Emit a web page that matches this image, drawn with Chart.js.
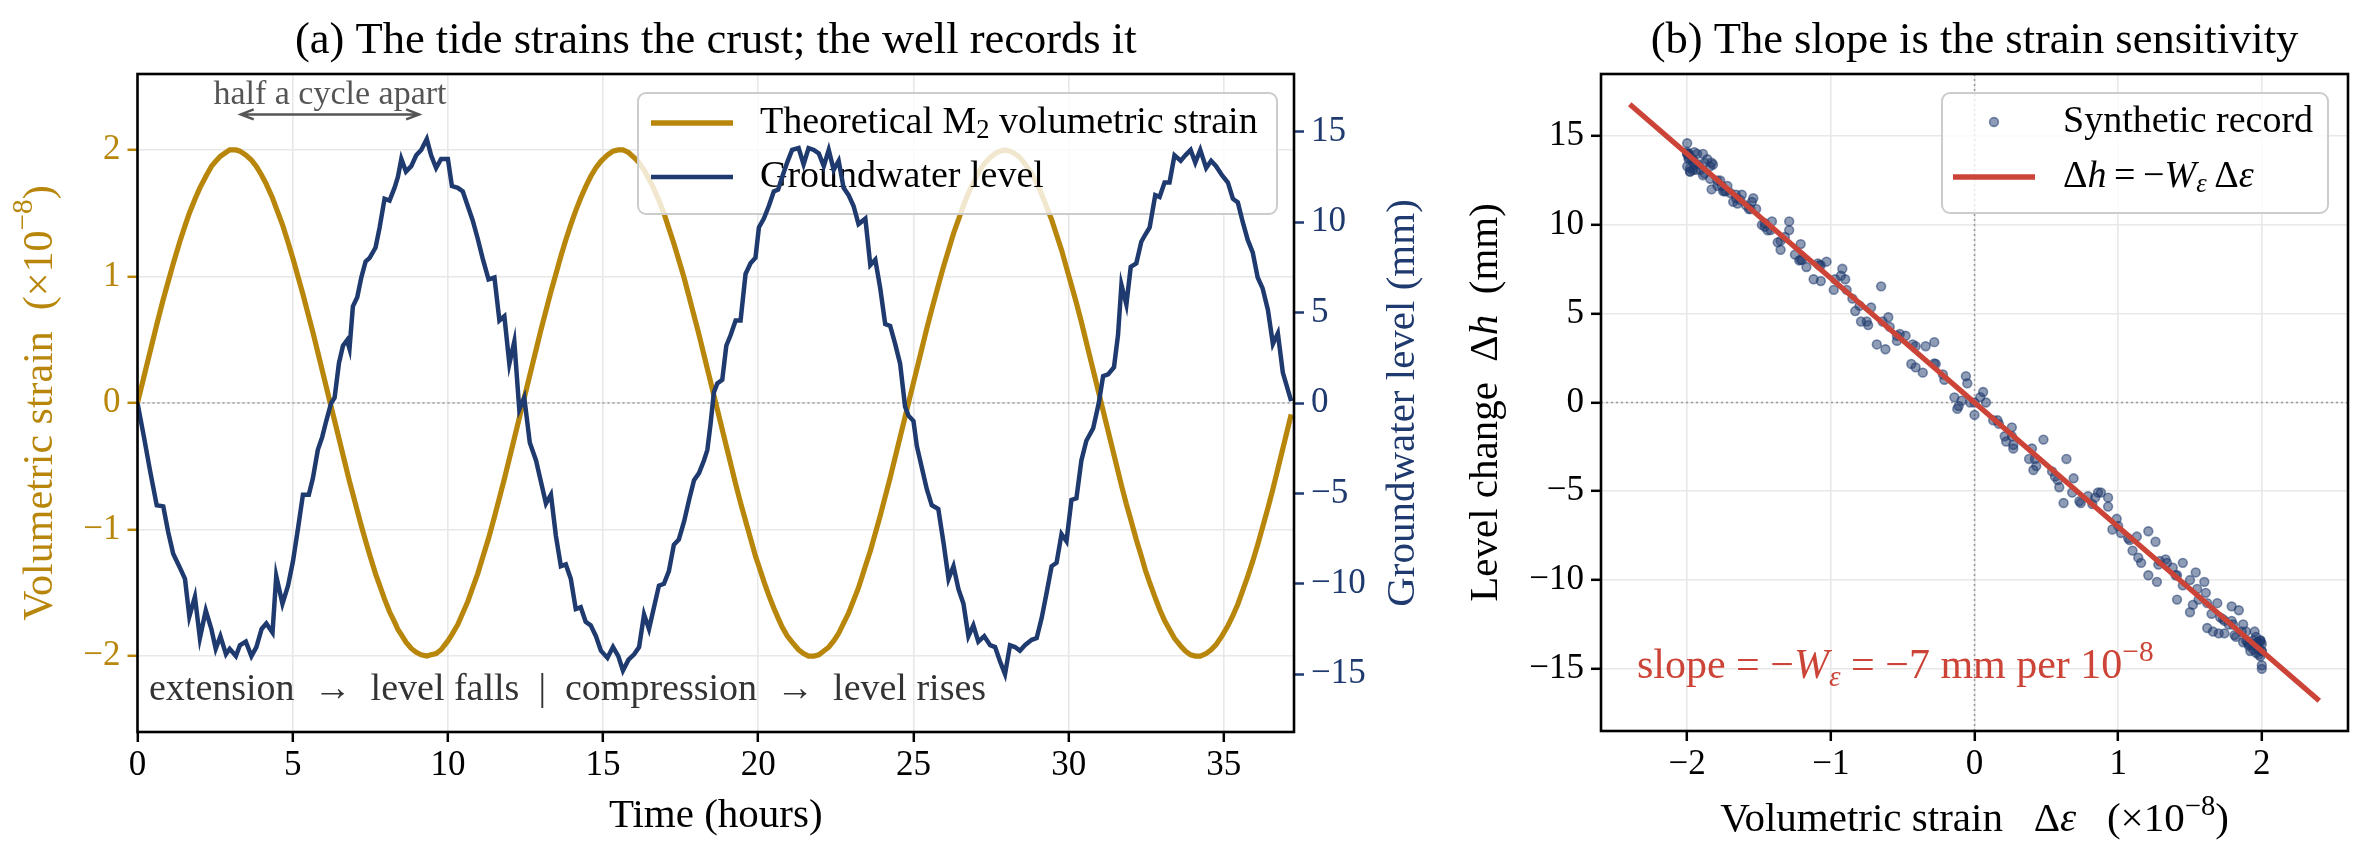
<!DOCTYPE html>
<html>
<head>
<meta charset="utf-8">
<script src="https://cdn.jsdelivr.net/npm/chart.js@4.4.1/dist/chart.umd.min.js"></script>
<style>
  html, body { margin: 0; padding: 0; background: #fff; }
  #wrap { position: relative; width: 2366px; height: 864px; }
  canvas { position: absolute; top: 0; }
  #tide { left: 0; }
  #slope { left: 1460px; }
</style>
</head>
<body>
<div id="wrap">
  <canvas id="tide" width="1460" height="864"></canvas>
  <canvas id="slope" width="906" height="864"></canvas>
</div>
<script>
// sample times (hours) of the well record
const hours = [
  0, 0.21, 0.41, 0.62, 0.83, 0.99, 1.15, 1.37, 1.53, 1.67, 1.85, 2.01, 2.20, 2.38, 2.52, 2.67, 2.85, 2.97, 3.17, 3.30,
  3.49, 3.67, 3.83, 4.00, 4.15, 4.35, 4.47, 4.67, 4.85, 5.01, 5.17, 5.33, 5.52, 5.65, 5.81, 5.95, 6.08, 6.24, 6.35, 6.49,
  6.62, 6.75, 6.83, 6.94, 7.08, 7.21, 7.35, 7.48, 7.67, 7.80, 7.96, 8.12, 8.28, 8.39, 8.50, 8.65, 8.82, 8.98, 9.14, 9.32,
  9.46, 9.62, 9.78, 10.00, 10.13, 10.32, 10.48, 10.64, 10.80, 10.96, 11.12, 11.31, 11.50, 11.66, 11.82, 11.98, 12.14, 12.30, 12.46, 12.64,
  12.84, 13.00, 13.16, 13.32, 13.48, 13.64, 13.80, 13.96, 14.12, 14.28, 14.44, 14.60, 14.77, 14.93, 15.14, 15.32, 15.49, 15.64, 15.82, 16.00,
  16.16, 16.32, 16.48, 16.64, 16.80, 16.96, 17.12, 17.28, 17.44, 17.61, 17.77, 17.93, 18.09, 18.25, 18.36, 18.46, 18.57, 18.68, 18.84, 18.97,
  19.11, 19.27, 19.43, 19.59, 19.75, 19.91, 20.02, 20.18, 20.34, 20.50, 20.64, 20.77, 20.93, 21.09, 21.30, 21.46, 21.62, 21.79, 21.95, 22.11,
  22.27, 22.43, 22.59, 22.75, 22.91, 23.07, 23.23, 23.45, 23.61, 23.77, 23.93, 24.09, 24.25, 24.41, 24.57, 24.73, 24.84, 25.00, 25.11, 25.27,
  25.43, 25.59, 25.80, 25.97, 26.13, 26.29, 26.45, 26.61, 26.77, 26.93, 27.09, 27.28, 27.47, 27.63, 27.79, 27.95, 28.11, 28.27, 28.43, 28.59,
  28.81, 28.97, 29.13, 29.29, 29.45, 29.61, 29.77, 29.93, 30.09, 30.25, 30.41, 30.57, 30.79, 30.97, 31.11, 31.27, 31.46, 31.59, 31.70, 31.86,
  32.00, 32.18, 32.34, 32.47, 32.61, 32.79, 32.93, 33.09, 33.25, 33.41, 33.61, 33.76, 33.93, 34.08, 34.24, 34.43, 34.59, 34.75, 34.94, 35.13,
  35.29, 35.45, 35.61, 35.77, 35.93, 36.09, 36.25, 36.42, 36.58, 36.74, 36.90, 37.17
];

// theoretical M2 volumetric strain (x1e-8) at those times
const strain = [
  0, 0.21, 0.41, 0.62, 0.82, 0.96, 1.10, 1.28, 1.40, 1.50, 1.61, 1.70, 1.79, 1.87, 1.91, 1.95, 1.98, 2.00, 2.00, 1.99,
  1.96, 1.92, 1.87, 1.80, 1.73, 1.62, 1.54, 1.41, 1.27, 1.14, 1.00, 0.86, 0.68, 0.56, 0.40, 0.26, 0.13, -0.03, -0.14, -0.28,
  -0.41, -0.54, -0.62, -0.72, -0.85, -0.97, -1.09, -1.20, -1.35, -1.44, -1.55, -1.65, -1.73, -1.79, -1.83, -1.89, -1.94, -1.97, -1.99, -2.00,
  -1.99, -1.98, -1.95, -1.88, -1.83, -1.75, -1.66, -1.57, -1.46, -1.35, -1.22, -1.07, -0.90, -0.75, -0.60, -0.44, -0.28, -0.12, 0.04, 0.22,
  0.42, 0.58, 0.73, 0.88, 1.02, 1.16, 1.29, 1.41, 1.52, 1.62, 1.71, 1.79, 1.86, 1.91, 1.96, 1.99, 2.00, 2.00, 1.98, 1.94,
  1.90, 1.84, 1.77, 1.69, 1.60, 1.50, 1.38, 1.26, 1.13, 0.99, 0.84, 0.69, 0.54, 0.38, 0.27, 0.17, 0.06, -0.05, -0.21, -0.34,
  -0.48, -0.64, -0.79, -0.93, -1.07, -1.21, -1.29, -1.41, -1.52, -1.62, -1.70, -1.77, -1.84, -1.89, -1.95, -1.98, -2.00, -2.00, -1.99, -1.96,
  -1.93, -1.88, -1.82, -1.74, -1.66, -1.56, -1.46, -1.29, -1.17, -1.03, -0.89, -0.74, -0.59, -0.43, -0.27, -0.11, 0.00, 0.16, 0.27, 0.43,
  0.59, 0.74, 0.93, 1.08, 1.21, 1.34, 1.45, 1.56, 1.66, 1.74, 1.82, 1.89, 1.94, 1.97, 1.99, 2.00, 1.99, 1.97, 1.94, 1.89,
  1.81, 1.74, 1.65, 1.55, 1.45, 1.33, 1.21, 1.07, 0.93, 0.79, 0.64, 0.48, 0.26, 0.08, -0.06, -0.22, -0.41, -0.54, -0.65, -0.80,
  -0.92, -1.08, -1.21, -1.32, -1.42, -1.54, -1.63, -1.72, -1.79, -1.86, -1.92, -1.96, -1.99, -2.00, -2.00, -1.98, -1.95, -1.91, -1.84, -1.76,
  -1.68, -1.59, -1.48, -1.37, -1.25, -1.12, -0.98, -0.83, -0.68, -0.52, -0.36, -0.09
];

// groundwater level change (mm) at those times
const level = [
  0.0, -1.9, -3.8, -5.66, -5.72, -7.15, -8.34, -9.13, -9.73, -11.81, -10.72, -13.0, -11.48, -12.5, -13.6, -12.9, -13.9, -13.6, -14.0, -13.4,
  -13.2, -14.0, -13.5, -12.5, -12.2, -12.7, -9.57, -11.1, -10.1, -8.74, -6.95, -5.07, -5.07, -4.17, -2.59, -1.89, -1.0, 0.0, 0.29, 2.2,
  3.17, 3.47, 3.0, 5.35, 5.85, 6.94, 7.83, 8.03, 8.6, 9.7, 11.3, 11.2, 11.9, 12.5, 13.5, 12.8, 13.1, 13.7, 14.0, 14.6,
  13.7, 13.0, 13.5, 13.5, 12.0, 11.9, 11.7, 10.9, 10.1, 9.1, 8.0, 6.84, 6.94, 4.56, 4.8, 2.17, 3.4, -0.36, 0.3, -2.2,
  -3.18, -4.37, -5.56, -5.07, -7.35, -9.03, -8.93, -9.73, -11.4, -11.3, -12.1, -12.3, -12.9, -13.7, -14.1, -13.5, -14.0, -14.8, -14.2, -13.9,
  -13.5, -11.7, -12.5, -11.3, -10.1, -10.0, -9.3, -7.84, -7.55, -6.55, -5.36, -4.27, -3.88, -3.18, -2.59, -1.2, 0.59, 1.08, 1.28, 3.17,
  3.76, 4.56, 4.56, 7.14, 7.73, 8.03, 9.71, 10.2, 10.9, 11.7, 11.8, 12.5, 13.3, 14.0, 14.1, 13.2, 14.1, 14.0, 13.8, 13.1,
  14.0, 12.9, 13.4, 11.9, 11.5, 10.9, 9.9, 10.2, 7.63, 7.93, 6.34, 4.36, 4.26, 3.27, 2.17, -0.2, -0.7, -1.0, -2.39, -3.58,
  -4.77, -5.66, -5.86, -7.75, -9.73, -9.03, -10.3, -11.1, -12.9, -12.3, -13.2, -12.9, -13.4, -13.5, -14.3, -15.0, -13.4, -13.5, -13.7, -13.4,
  -13.1, -13.0, -11.9, -10.5, -9.03, -8.84, -7.25, -7.65, -5.36, -5.27, -3.18, -2.09, -1.4, 0.0, 1.48, 1.58, 1.98, 3.76, 6.54, 5.45,
  7.53, 7.73, 8.92, 9.32, 9.71, 11.5, 11.4, 12.2, 12.2, 13.7, 13.4, 13.7, 14.0, 13.3, 14.0, 13.0, 13.4, 13.1, 12.6, 12.2,
  11.3, 11.1, 10.0, 9.02, 8.33, 6.94, 6.34, 5.15, 3.27, 3.86, 1.68, 0.1
];

// fitted line  dh = -W * de  with W = 7 mm per 1e-8
const fitStrain = [-2.4, 2.4];
const fitLevel = [16.8, -16.8];

// tick values
const timeTicks = [0, 5, 10, 15, 20, 25, 30, 35];
const strainTicks = [-2, -1, 0, 1, 2];
const levelTicks = [-15, -10, -5, 0, 5, 10, 15];
const fitStrainTicks = [-2, -1, 0, 1, 2];
const fitLevelTicks = [-15, -10, -5, 0, 5, 10, 15];

// annotation anchors (hours): strain peak -> level peak
const halfCycle = [3.1, 9.3];

const GOLD = '#b8860b';
const NAVY = '#1f3a6e';
const RED = '#cc4437';
const FONT = '"Liberation Serif", "Times New Roman", serif';
const GRID = '#e8e8e8';
const TICK_FONT = { family: FONT, size: 35 };

Chart.defaults.font.family = FONT;

const fmt = (v) => (v < 0 ? '\u2212' + Math.abs(v) : String(v));
const setTicks = (arr) => (scale) => { scale.ticks = arr.map((v) => ({ value: v })); };

// draw a run of text pieces: [text, flags] with i = italic, b = subscript, p = superscript
const pieceFont = (f, size) => {
  const s = (f.includes('b') || f.includes('p')) ? size * 0.7 : size;
  return (f.includes('i') ? 'italic ' : '') + s + 'px ' + FONT;
};

const drawRich = (ctx, parts, x, y, o) => {
  const size = o.size;
  const widths = parts.map(([t, f = '']) => {
    ctx.font = pieceFont(f, size);
    return ctx.measureText(t).width;
  });
  const total = widths.reduce((a, b) => a + b, 0);
  ctx.save();
  ctx.translate(x, y);
  if (o.rotate) ctx.rotate(o.rotate);
  let cx = o.align === 'center' ? -total / 2 : 0;
  ctx.fillStyle = o.color || '#000';
  ctx.textAlign = 'left';
  ctx.textBaseline = o.baseline || 'alphabetic';
  parts.forEach(([t, f = ''], i) => {
    ctx.font = pieceFont(f, size);
    let dy = 0;
    if (f.includes('b')) dy = size * 0.2;
    if (f.includes('p')) dy = -size * 0.4;
    ctx.fillText(t, cx, dy);
    cx += widths[i];
  });
  ctx.restore();
};

const frame = (ctx, a) => {
  ctx.save();
  ctx.strokeStyle = '#000';
  ctx.lineWidth = 2.6;
  ctx.strokeRect(a.left, a.top, a.right - a.left, a.bottom - a.top);
  ctx.restore();
};

const legendBox = (ctx, x, y, w, h) => {
  ctx.save();
  ctx.fillStyle = 'rgba(255,255,255,0.8)';
  ctx.strokeStyle = '#cccccc';
  ctx.lineWidth = 2;
  ctx.beginPath();
  ctx.roundRect(x, y, w, h, 8);
  ctx.fill();
  ctx.stroke();
  ctx.restore();
};

const legendLine = (ctx, x1, x2, y, color, width) => {
  ctx.save();
  ctx.strokeStyle = color;
  ctx.lineWidth = width;
  ctx.beginPath();
  ctx.moveTo(x1, y);
  ctx.lineTo(x2, y);
  ctx.stroke();
  ctx.restore();
};

const dotted = (ctx, x1, y1, x2, y2) => {
  ctx.save();
  ctx.strokeStyle = '#999999';
  ctx.lineWidth = 1.5;
  ctx.setLineDash([2, 3]);
  ctx.beginPath();
  ctx.moveTo(x1, y1);
  ctx.lineTo(x2, y2);
  ctx.stroke();
  ctx.restore();
};

// ---------- panel (a) ----------
const tideDecor = {
  id: 'tideDecor',
  beforeDatasetsDraw(chart) {
    const { ctx, chartArea: a, scales } = chart;
    const y0 = scales.y.getPixelForValue(0);
    dotted(ctx, a.left, y0, a.right, y0);
  },
  afterDatasetDraw(chart, args) {
    // legend sits over the strain curve but under the well record
    if (args.index !== 1) return;
    const { ctx } = chart;
    legendBox(ctx, 638, 93, 639, 121);
    legendLine(ctx, 651, 733, 123, GOLD, 5.3);
    legendLine(ctx, 651, 733, 177, NAVY, 4.7);
    drawRich(ctx, [['Theoretical M'], ['2', 'b'], [' volumetric strain']], 760, 123, { size: 38, baseline: 'middle' });
    drawRich(ctx, [['Groundwater level']], 760, 177, { size: 38, baseline: 'middle' });
  },
  afterDraw(chart) {
    const { ctx, chartArea: a, scales: { x, y } } = chart;
    frame(ctx, a);
    const mid = (a.left + a.right) / 2;
    const midY = (a.top + a.bottom) / 2;
    drawRich(ctx, [['(a) The tide strains the crust; the well records it']], mid, 53, { size: 44.5, align: 'center' });
    drawRich(ctx, [['Time (hours)']], mid, 827, { size: 41, align: 'center' });
    drawRich(ctx, [['Volumetric strain  (\u00d710'], ['\u22128', 'p'], [')']], 41, midY,
      { size: 42, align: 'center', baseline: 'middle', rotate: -Math.PI / 2, color: GOLD });
    drawRich(ctx, [['Groundwater level (mm)']], 1403, midY,
      { size: 41, align: 'center', baseline: 'middle', rotate: -Math.PI / 2, color: NAVY });

    // half a cycle apart
    const ax1 = x.getPixelForValue(halfCycle[0]) + 7;
    const ax2 = x.getPixelForValue(halfCycle[1]) - 7;
    const ay = y.getPixelForValue(2.28);
    ctx.save();
    ctx.strokeStyle = '#555555';
    ctx.lineWidth = 2.4;
    ctx.beginPath();
    ctx.moveTo(ax1, ay); ctx.lineTo(ax2, ay);
    ctx.moveTo(ax1 + 13, ay - 5); ctx.lineTo(ax1, ay); ctx.lineTo(ax1 + 13, ay + 5);
    ctx.moveTo(ax2 - 13, ay - 5); ctx.lineTo(ax2, ay); ctx.lineTo(ax2 - 13, ay + 5);
    ctx.stroke();
    ctx.restore();
    drawRich(ctx, [['half a cycle apart']], x.getPixelForValue((halfCycle[0] + halfCycle[1]) / 2), y.getPixelForValue(2.36),
      { size: 34, align: 'center', color: '#555555' });

    drawRich(ctx, [['extension  \u2192  level falls  |  compression  \u2192  level rises']],
      x.getPixelForValue(0.37), y.getPixelForValue(-2.35), { size: 38, color: '#333333' });
  }
};

new Chart(document.getElementById('tide'), {
  type: 'line',
  data: {
    datasets: [
      {
        label: 'Groundwater level',
        data: hours.map((t, i) => ({ x: t, y: level[i] })),
        yAxisID: 'y2',
        borderColor: NAVY,
        borderWidth: 4.5,
        pointRadius: 0,
        tension: 0,
      },
      {
        label: 'Theoretical M2 volumetric strain',
        data: hours.map((t, i) => ({ x: t, y: strain[i] })),
        yAxisID: 'y',
        borderColor: GOLD,
        borderWidth: 5.2,
        pointRadius: 0,
        tension: 0,
      },
    ],
  },
  options: {
    responsive: false,
    animation: false,
    devicePixelRatio: 1,
    layout: { padding: { top: 74, left: 0, right: 0, bottom: 0 } },
    plugins: { legend: { display: false }, tooltip: { enabled: false } },
    scales: {
      x: {
        type: 'linear',
        min: 0,
        max: 37.26,
        afterBuildTicks: setTicks(timeTicks),
        ticks: { color: '#000', font: TICK_FONT, padding: 3, callback: fmt, maxRotation: 0 },
        grid: { color: GRID, lineWidth: 1.6, tickLength: 10, tickColor: '#000', tickWidth: 2.5 },
        border: { display: false },
        afterFit: (s) => { s.height = 132; },
      },
      y: {
        position: 'left',
        min: -2.6,
        max: 2.6,
        afterBuildTicks: setTicks(strainTicks),
        ticks: { color: GOLD, font: TICK_FONT, padding: 7, callback: fmt },
        grid: { color: GRID, lineWidth: 1.6, tickLength: 10, tickColor: GOLD, tickWidth: 2.5 },
        border: { display: false },
        afterFit: (s) => { s.width = 137.5; },
      },
      y2: {
        position: 'right',
        min: -18.2,
        max: 18.2,
        afterBuildTicks: setTicks(levelTicks),
        ticks: { color: NAVY, font: TICK_FONT, padding: 7, callback: fmt },
        grid: { drawOnChartArea: false, tickLength: 10, tickColor: NAVY, tickWidth: 2.5 },
        border: { display: false },
        afterFit: (s) => { s.width = 166; },
      },
    },
  },
  plugins: [tideDecor],
});

// ---------- panel (b) ----------
const slopeDecor = {
  id: 'slopeDecor',
  beforeDatasetsDraw(chart) {
    const { ctx, chartArea: a, scales: { x, y } } = chart;
    const y0 = y.getPixelForValue(0);
    const x0 = x.getPixelForValue(0);
    dotted(ctx, a.left, y0, a.right, y0);
    dotted(ctx, x0, a.top, x0, a.bottom);
  },
  afterDatasetsDraw(chart) {
    const { ctx } = chart;
    legendBox(ctx, 482, 93, 386, 120);
    ctx.save();
    ctx.fillStyle = 'rgba(31,58,110,0.5)';
    ctx.strokeStyle = 'rgba(31,58,110,0.55)';
    ctx.lineWidth = 1.6;
    ctx.beginPath();
    ctx.arc(534, 122, 4.4, 0, Math.PI * 2);
    ctx.fill();
    ctx.stroke();
    ctx.restore();
    legendLine(ctx, 493, 575, 177, RED, 5.3);
    drawRich(ctx, [['Synthetic record']], 603, 122, { size: 38, baseline: 'middle' });
    drawRich(ctx, [['\u0394'], ['h', 'i'], ['\u2009=\u2009\u2212'], ['W', 'i'], ['\u03b5', 'ib'], ['\u2009\u0394'], ['\u03b5', 'i']], 603, 177,
      { size: 38, baseline: 'middle' });
  },
  afterDraw(chart) {
    const { ctx, chartArea: a, scales: { x, y } } = chart;
    frame(ctx, a);
    const mid = (a.left + a.right) / 2;
    const midY = (a.top + a.bottom) / 2;
    drawRich(ctx, [['(b) The slope is the strain sensitivity']], mid, 53, { size: 44.5, align: 'center' });
    drawRich(ctx, [['Volumetric strain   \u0394'], ['\u03b5', 'i'], ['   (\u00d710'], ['\u22128', 'p'], [')']], mid, 831,
      { size: 41, align: 'center' });
    drawRich(ctx, [['Level change  \u0394'], ['h', 'i'], ['  (mm)']], 26, midY,
      { size: 41, align: 'center', baseline: 'middle', rotate: -Math.PI / 2 });
    drawRich(ctx, [['slope '], ['= \u2212'], ['W', 'i'], ['\u03b5', 'ib'], [' = \u22127'], [' mm per 10'], ['\u22128', 'p']],
      x.getPixelForValue(-2.35), y.getPixelForValue(-15.5), { size: 42, color: RED });
  }
};

new Chart(document.getElementById('slope'), {
  type: 'scatter',
  data: {
    datasets: [
      {
        type: 'line',
        label: 'fit',
        data: fitStrain.map((s, i) => ({ x: s, y: fitLevel[i] })),
        borderColor: RED,
        borderWidth: 5.3,
        pointRadius: 0,
      },
      {
        type: 'scatter',
        label: 'Synthetic record',
        data: strain.map((s, i) => ({ x: s, y: level[i] })),
        backgroundColor: 'rgba(31,58,110,0.5)',
        borderColor: 'rgba(31,58,110,0.55)',
        borderWidth: 1.6,
        pointRadius: 4.4,
      },
    ],
  },
  options: {
    responsive: false,
    animation: false,
    devicePixelRatio: 1,
    layout: { padding: { top: 74, left: 0, right: 18, bottom: 0 } },
    plugins: { legend: { display: false }, tooltip: { enabled: false } },
    scales: {
      x: {
        type: 'linear',
        min: -2.6,
        max: 2.6,
        afterBuildTicks: setTicks(fitStrainTicks),
        ticks: { color: '#000', font: TICK_FONT, padding: 3, callback: fmt, maxRotation: 0 },
        grid: { color: GRID, lineWidth: 1.6, tickLength: 10, tickColor: '#000', tickWidth: 2.5 },
        border: { display: false },
        afterFit: (s) => { s.height = 133; },
      },
      y: {
        type: 'linear',
        min: -18.5,
        max: 18.5,
        afterBuildTicks: setTicks(fitLevelTicks),
        ticks: { color: '#000', font: TICK_FONT, padding: 7, callback: fmt },
        grid: { color: GRID, lineWidth: 1.6, tickLength: 10, tickColor: '#000', tickWidth: 2.5 },
        border: { display: false },
        afterFit: (s) => { s.width = 141; },
      },
    },
  },
  plugins: [slopeDecor],
});
</script>
</body>
</html>
